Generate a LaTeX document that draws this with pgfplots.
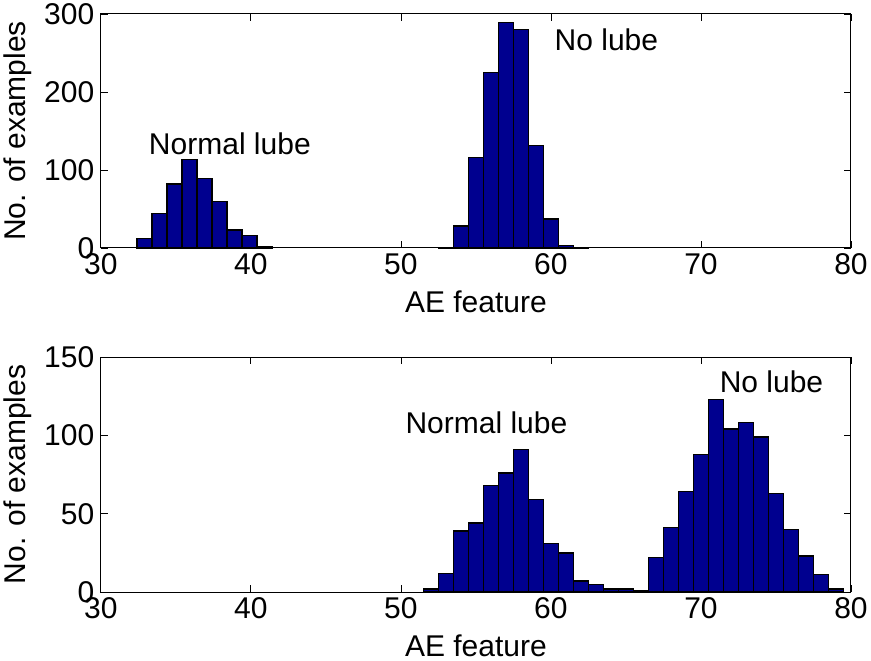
\documentclass[border=0pt]{standalone}
\usepackage{pgfplots}
\pgfplotsset{compat=1.18}
\usepackage{fontspec}
\setmainfont{Liberation Sans}
\definecolor{mblue}{RGB}{0,0,143}
\newcommand{\bigf}{\fontsize{30}{34}\selectfont}
\begin{document}
\begin{tikzpicture}
\pgfplotsset{
  hstyle/.style={
    scale only axis, width=750pt,
    xmin=30, xmax=80, xtick={30,40,...,80},
    tick align=inside, major tick length=7pt,
    tick style={black, line width=0.8pt},
    axis line style={black, line width=1pt},
    /pgf/number format/assume math mode=true,
    tick label style={font=\bigf},
    label style={font=\bigf},
    xticklabel style={yshift=-2pt},
    yticklabel style={xshift=-3pt},
    xlabel={AE feature},
    ylabel={No. of examples},
    ylabel style={at={(axis description cs:-0.088,0.5)}, anchor=south},
    xlabel style={at={(axis description cs:0.5,-0.168)}, anchor=north},
    clip=false,
  },
  hbar/.style={ybar, bar width=1, bar shift=0pt, fill=mblue, draw=black, line width=1.3pt},
}
\begin{axis}[hstyle, height=234pt, at={(0,0)}, anchor=south west,
  ymin=0, ymax=300, ytick={0,100,200,300}]
\addplot[hbar] coordinates {
(32.9,12) (33.9,44) (34.9,82) (35.9,113) (36.9,89) (37.9,60) (38.9,23) (39.9,16) (40.9,2)
};
\addplot[hbar] coordinates {
(53,1) (54,28) (55,116) (56,225) (57,289) (58,280) (59,131) (60,37) (61,3) (62,1)
};
\node[font=\bigf] at (axis cs:38.6,133) {Normal lube};
\node[font=\bigf] at (axis cs:63.7,267) {No lube};
\end{axis}
\begin{axis}[hstyle, height=235pt, at={(0,-344pt)}, anchor=south west,
  ymin=0, ymax=150, ytick={0,50,100,150}]
\addplot[hbar] coordinates {
(52,2) (53,12) (54,39) (55,44) (56,68) (57,76) (58,91) (59,59) (60,31) (61,25) (62,7) (63,5)
(64,2) (65,2) (66,1)
(67,22) (68,41) (69,64) (70,88) (71,123) (72,104) (73,108) (74,99) (75,63) (76,40) (77,23) (78,11) (79,2)
};
\node[font=\bigf] at (axis cs:55.7,108) {Normal lube};
\node[font=\bigf] at (axis cs:74.7,134) {No lube};
\end{axis}
\end{tikzpicture}
\end{document}
